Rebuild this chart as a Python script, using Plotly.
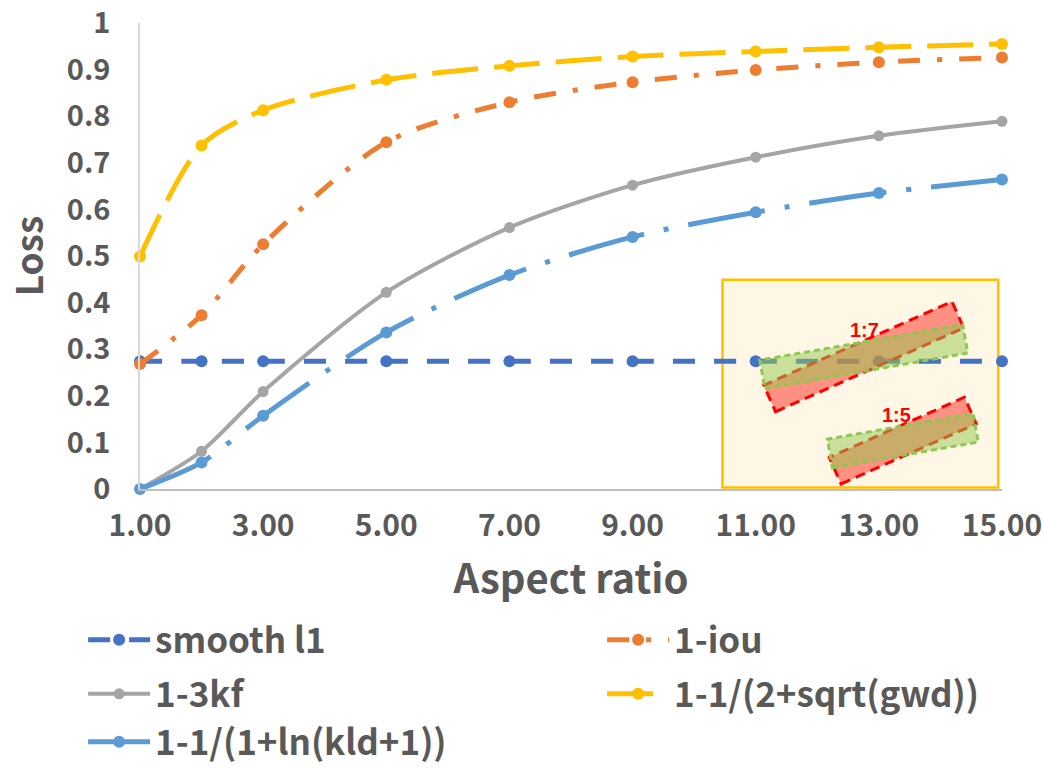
import math
import plotly.graph_objects as go

# ---- data ----------------------------------------------------------------
aspect_ratio = [1, 2, 3, 5, 7, 9, 11, 13, 15]

smooth_l1 = [0.274, 0.274, 0.274, 0.274, 0.274, 0.274, 0.274, 0.274, 0.274]
one_minus_iou = [0.268, 0.373, 0.525, 0.744, 0.830, 0.873, 0.899, 0.916, 0.926]
one_minus_3kf = [0.0, 0.081, 0.209, 0.422, 0.561, 0.652, 0.712, 0.758, 0.789]
gwd_loss = [0.499, 0.737, 0.813, 0.878, 0.908, 0.928, 0.939, 0.948, 0.955]
kld_loss = [0.0, 0.057, 0.157, 0.336, 0.459, 0.541, 0.594, 0.635, 0.664]

series_names = [
    "smooth l1",
    "1-iou",
    "1-3kf",
    "1-1/(2+sqrt(gwd))",
    "1-1/(1+ln(kld+1))",
]

x_tick_vals = [1, 3, 5, 7, 9, 11, 13, 15]
y_tick_vals = [0, 0.1, 0.2, 0.3, 0.4, 0.5, 0.6, 0.7, 0.8, 0.9, 1]

inset_labels = ["1:7", "1:5"]

# ---- layout constants ------------------------------------------------------
W, H = 1043, 768
MARGIN = dict(l=140, r=41, t=23, b=279, autoexpand=False)
X_RANGE = [1, 15]
Y_RANGE = [0, 1]
PLOT_W = W - MARGIN["l"] - MARGIN["r"]
PLOT_H = H - MARGIN["t"] - MARGIN["b"]
PX_PER_X = PLOT_W / (X_RANGE[1] - X_RANGE[0])
PX_PER_Y = PLOT_H / (Y_RANGE[1] - Y_RANGE[0])

TEXT_GREY = "#595959"
FONT = "Noto Sans CJK SC"

styles = [
    dict(color="#4472C4", dash="22px,19px", width=5, size=12),
    dict(color="#ED7D31", dash="22px,17px,5px,17px", width=5, size=12),
    dict(color="#A5A5A5", dash="solid", width=4, size=11),
    dict(color="#FFC000", dash="46px,16px", width=5, size=12),
    dict(color="#5B9BD5", dash="78px,20px,5px,20px", width=5, size=12),
]
series_values = [smooth_l1, one_minus_iou, one_minus_3kf, gwd_loss, kld_loss]
# legend rows: two entries per row (left column gets a fixed entry width)
legend_rows = ["legend", "legend", "legend2", "legend2", "legend3"]
LEFT_ENTRY_W = 442
RIGHT_ENTRY_W = 320
legend_widths = [LEFT_ENTRY_W, RIGHT_ENTRY_W, LEFT_ENTRY_W, RIGHT_ENTRY_W, LEFT_ENTRY_W]

fig = go.Figure()
for name, vals, st, leg, lw in zip(series_names, series_values, styles,
                                   legend_rows, legend_widths):
    fig.add_trace(
        go.Scatter(
            x=aspect_ratio,
            y=vals,
            name=name,
            legend=leg,
            legendwidth=lw,
            mode="lines+markers",
            line=dict(color=st["color"], width=st["width"], dash=st["dash"],
                      shape="spline", smoothing=0.8),
            marker=dict(color=st["color"], size=st["size"], symbol="circle"),
            cliponaxis=False,
        )
    )

# ---- inset illustration (rotated boxes at two aspect ratios) --------------
inset_x0, inset_x1 = 10.46, 14.94
inset_y0, inset_y1 = 0.003, 0.449

shapes = [
    dict(type="rect", xref="x", yref="y", x0=inset_x0, x1=inset_x1,
         y0=inset_y0, y1=inset_y1, layer="below",
         fillcolor="#FFF7E5", line=dict(color="#FFC000", width=2.5)),
]


def inset_point(u, v):
    """Pixel offset inside the inset -> data coordinates."""
    return inset_x0 + u / PX_PER_X, inset_y0 + v / PX_PER_Y


def rotated_box(cx, cy, length, thick, angle_deg):
    a = math.radians(angle_deg)
    ux, uy = math.cos(a), math.sin(a)
    nx, ny = -uy, ux
    pts = []
    for s, t in [(-1, -1), (1, -1), (1, 1), (-1, 1)]:
        px = cx + s * length / 2 * ux + t * thick / 2 * nx
        py = cy + s * length / 2 * uy + t * thick / 2 * ny
        pts.append(inset_point(px, py))
    return "M " + " L ".join(f"{x:.4f},{y:.4f}" for x, y in pts) + " Z"


# (centre_u, centre_v, length, thickness) in inset pixels; label offset
box_groups = [
    dict(c=(141.3, 131.0), length=206, thick=29, label=(142.3, 158.0)),
    dict(c=(180.3, 47.0), length=148, thick=29, label=(174.3, 73.0)),
]
RED_ANGLE, GREEN_ANGLE = 24.0, 10.0

annotations = []
for grp, lab in zip(box_groups, inset_labels):
    cx, cy = grp["c"]
    shapes.append(dict(
        type="path", xref="x", yref="y", layer="above",
        path=rotated_box(cx, cy, grp["length"], grp["thick"], RED_ANGLE),
        fillcolor="rgba(255,60,50,0.55)",
        line=dict(color="#FF0000", width=3, dash="10px,6px"),
    ))
    shapes.append(dict(
        type="path", xref="x", yref="y", layer="above",
        path=rotated_box(cx, cy, grp["length"], grp["thick"], GREEN_ANGLE),
        fillcolor="rgba(150,200,80,0.5)",
        line=dict(color="#8DC851", width=3, dash="6px,4px"),
    ))
    lx, ly = inset_point(*grp["label"])
    annotations.append(dict(
        x=lx, y=ly, xref="x", yref="y", text=lab, showarrow=False,
        font=dict(family="Liberation Sans", size=20, color="#FF0000",
                  weight="bold"),
    ))

legend_common = dict(
    orientation="h",
    xanchor="left", yanchor="middle",
    entrywidthmode="pixels",
    itemwidth=62,
    font=dict(family=FONT, size=35, color=TEXT_GREY, weight="bold"),
    bgcolor="rgba(0,0,0,0)",
)
LEGEND_X = -0.066

fig.update_layout(
    width=W,
    height=H,
    margin=MARGIN,
    paper_bgcolor="white",
    plot_bgcolor="white",
    font=dict(family=FONT, color=TEXT_GREY),
    shapes=shapes,
    annotations=annotations,
    showlegend=True,
    legend=dict(legend_common, x=LEGEND_X, y=-0.324),
    legend2=dict(legend_common, x=LEGEND_X, y=-0.440),
    legend3=dict(legend_common, x=LEGEND_X, y=-0.543),
)

fig.update_xaxes(
    range=X_RANGE,
    tickvals=x_tick_vals,
    tickformat=".2f",
    showgrid=False,
    zeroline=False,
    showline=True,
    linecolor="#BFBFBF",
    linewidth=1.5,
    ticks="",
    ticklabelstandoff=9,
    ticklabeloverflow="allow",
    tickfont=dict(family=FONT, size=30, color=TEXT_GREY, weight="bold"),
    title=dict(text="Aspect ratio", standoff=21,
               font=dict(family=FONT, size=40, color=TEXT_GREY, weight="bold")),
)
fig.update_yaxes(
    range=Y_RANGE,
    tickvals=y_tick_vals,
    showgrid=False,
    zeroline=False,
    showline=True,
    linecolor="#D9D9D9",
    linewidth=1.5,
    ticks="",
    ticklabelstandoff=22,
    ticklabeloverflow="allow",
    tickfont=dict(family=FONT, size=29, color=TEXT_GREY, weight="bold"),
    title=dict(text="Loss", standoff=26,
               font=dict(family=FONT, size=37, color=TEXT_GREY, weight="bold")),
)

fig.write_html("out.html")
